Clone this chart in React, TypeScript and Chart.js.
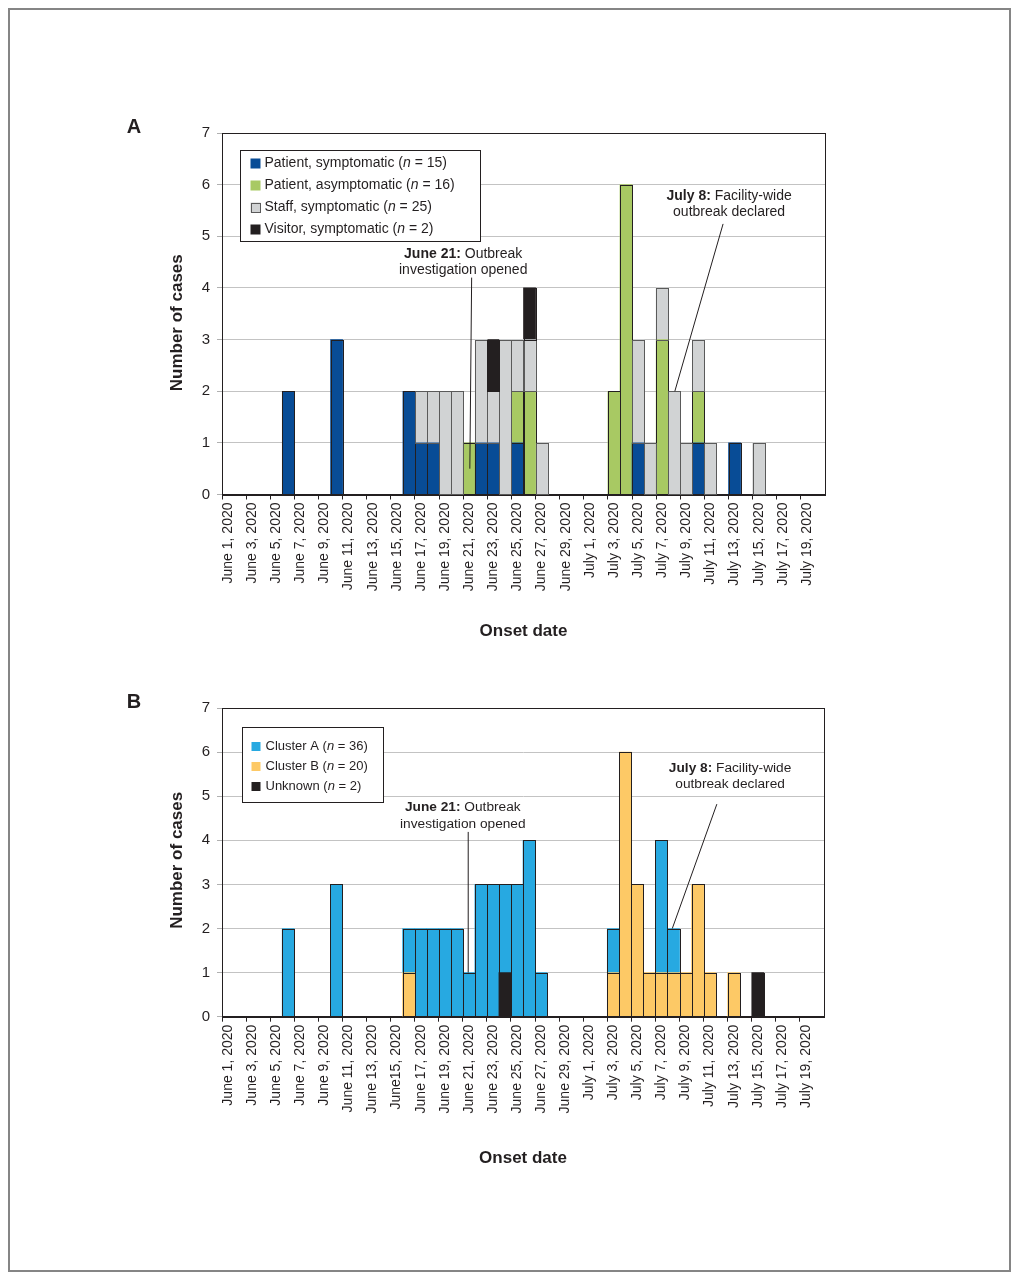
import React, { useEffect, useRef } from 'react';
import { Chart, registerables } from 'chart.js';

Chart.register(...registerables);

const FONT = "'Liberation Sans', Arial, Helvetica, sans-serif";
const INK = '#231f20';

const categories = [
  'June 1, 2020', 'June 2, 2020', 'June 3, 2020', 'June 4, 2020', 'June 5, 2020',
  'June 6, 2020', 'June 7, 2020', 'June 8, 2020', 'June 9, 2020', 'June 10, 2020',
  'June 11, 2020', 'June 12, 2020', 'June 13, 2020', 'June 14, 2020', 'June 15, 2020',
  'June 16, 2020', 'June 17, 2020', 'June 18, 2020', 'June 19, 2020', 'June 20, 2020',
  'June 21, 2020', 'June 22, 2020', 'June 23, 2020', 'June 24, 2020', 'June 25, 2020',
  'June 26, 2020', 'June 27, 2020', 'June 28, 2020', 'June 29, 2020', 'June 30, 2020',
  'July 1, 2020', 'July 2, 2020', 'July 3, 2020', 'July 4, 2020', 'July 5, 2020',
  'July 6, 2020', 'July 7, 2020', 'July 8, 2020', 'July 9, 2020', 'July 10, 2020',
  'July 11, 2020', 'July 12, 2020', 'July 13, 2020', 'July 14, 2020', 'July 15, 2020',
  'July 16, 2020', 'July 17, 2020', 'July 18, 2020', 'July 19, 2020', 'July 20, 2020',
];

const tickLabelsA = [
  'June 1, 2020', 'June 3, 2020', 'June 5, 2020', 'June 7, 2020', 'June 9, 2020',
  'June 11, 2020', 'June 13, 2020', 'June 15, 2020', 'June 17, 2020', 'June 19, 2020',
  'June 21, 2020', 'June 23, 2020', 'June 25, 2020', 'June 27, 2020', 'June 29, 2020',
  'July 1, 2020', 'July 3, 2020', 'July 5, 2020', 'July 7, 2020', 'July 9, 2020',
  'July 11, 2020', 'July 13, 2020', 'July 15, 2020', 'July 17, 2020', 'July 19, 2020',
];

const tickLabelsB = [
  'June 1, 2020', 'June 3, 2020', 'June 5, 2020', 'June 7, 2020', 'June 9, 2020',
  'June 11, 2020', 'June 13, 2020', 'June15, 2020', 'June 17, 2020', 'June 19, 2020',
  'June 21, 2020', 'June 23, 2020', 'June 25, 2020', 'June 27, 2020', 'June 29, 2020',
  'July 1, 2020', 'July 3, 2020', 'July 5, 2020', 'July 7, 2020', 'July 9, 2020',
  'July 11, 2020', 'July 13, 2020', 'July 15, 2020', 'July 17, 2020', 'July 19, 2020',
];

// Panel A series (cases per onset day)
const patientSymptomatic = [
  0, 0, 0, 0, 0, 2, 0, 0, 0, 3,
  0, 0, 0, 0, 0, 2, 1, 1, 0, 0,
  0, 1, 1, 0, 1, 0, 0, 0, 0, 0,
  0, 0, 0, 0, 1, 0, 0, 0, 0, 1,
  0, 0, 1, 0, 0, 0, 0, 0, 0, 0,
];
const patientAsymptomatic = [
  0, 0, 0, 0, 0, 0, 0, 0, 0, 0,
  0, 0, 0, 0, 0, 0, 0, 0, 0, 0,
  1, 0, 0, 0, 1, 2, 0, 0, 0, 0,
  0, 0, 2, 6, 0, 0, 3, 0, 0, 1,
  0, 0, 0, 0, 0, 0, 0, 0, 0, 0,
];
const staffSymptomatic = [
  0, 0, 0, 0, 0, 0, 0, 0, 0, 0,
  0, 0, 0, 0, 0, 0, 1, 1, 2, 2,
  0, 2, 1, 3, 1, 1, 1, 0, 0, 0,
  0, 0, 0, 0, 2, 1, 1, 2, 1, 1,
  1, 0, 0, 0, 1, 0, 0, 0, 0, 0,
];
const visitorSymptomatic = [
  0, 0, 0, 0, 0, 0, 0, 0, 0, 0,
  0, 0, 0, 0, 0, 0, 0, 0, 0, 0,
  0, 0, 1, 0, 0, 1, 0, 0, 0, 0,
  0, 0, 0, 0, 0, 0, 0, 0, 0, 0,
  0, 0, 0, 0, 0, 0, 0, 0, 0, 0,
];

// Panel B series
const clusterA = [
  0, 0, 0, 0, 0, 2, 0, 0, 0, 3,
  0, 0, 0, 0, 0, 1, 2, 2, 2, 2,
  1, 3, 3, 2, 3, 4, 1, 0, 0, 0,
  0, 0, 1, 0, 0, 0, 3, 1, 0, 0,
  0, 0, 0, 0, 0, 0, 0, 0, 0, 0,
];
const clusterB = [
  0, 0, 0, 0, 0, 0, 0, 0, 0, 0,
  0, 0, 0, 0, 0, 1, 0, 0, 0, 0,
  0, 0, 0, 0, 0, 0, 0, 0, 0, 0,
  0, 0, 1, 6, 3, 1, 1, 1, 1, 3,
  1, 0, 1, 0, 0, 0, 0, 0, 0, 0,
];
const unknownCluster = [
  0, 0, 0, 0, 0, 0, 0, 0, 0, 0,
  0, 0, 0, 0, 0, 0, 0, 0, 0, 0,
  0, 0, 0, 1, 0, 0, 0, 0, 0, 0,
  0, 0, 0, 0, 0, 0, 0, 0, 0, 0,
  0, 0, 0, 0, 1, 0, 0, 0, 0, 0,
];

const seriesNamesA = ['Patient, symptomatic', 'Patient, asymptomatic', 'Staff, symptomatic', 'Visitor, symptomatic'];
const seriesNamesB = ['Cluster A', 'Cluster B', 'Unknown'];

const yTitle = 'Number of cases';
const xTitle = 'Onset date';

const annotationsA = [
  { bold: 'June 21:', rest: ' Outbreak', line2: 'investigation opened', text: [19.5, 4.66, 4.35], from: [20.2, 4.2], to: [20.05, 0.5] },
  { bold: 'July 8:', rest: ' Facility-wide', line2: 'outbreak declared', text: [41.55, 5.77, 5.46], from: [41.05, 5.24], to: [37.05, 2.0] },
];
const annotationsB = [
  { bold: 'June 21:', rest: ' Outbreak', line2: 'investigation opened', text: [19.5, 4.76, 4.37], from: [19.95, 4.19], to: [19.95, 1.0] },
  { bold: 'July 8:', rest: ' Facility-wide', line2: 'outbreak declared', text: [41.7, 5.64, 5.28], from: [40.6, 4.82], to: [36.9, 2.0] },
];

const sum = (arr: number[]) => arr.reduce((a, b) => a + b, 0);

const decorPlugin = {
  id: 'decor',
  afterDatasetsDraw(chart: any, _args: any, opts: any) {
    const { ctx, chartArea: ca, scales } = chart;
    const xs = scales.x;
    const ys = scales.y;
    ctx.save();

    // bar outlines (shared edges -> single line)
    chart.data.datasets.forEach((ds: any, di: number) => {
      const meta = chart.getDatasetMeta(di);
      meta.data.forEach((el: any, i: number) => {
        const v = ds.data[i];
        if (v === null || v === undefined) return;
        const p = el.getProps(['x', 'y', 'base', 'width'], true);
        const l = Math.round(p.x - p.width / 2) + 0.5;
        const r = Math.round(p.x + p.width / 2) + 0.5;
        const t = Math.round(p.y) + 0.5;
        const b = Math.round(p.base) + 0.5;
        ctx.strokeStyle = ds.outline;
        ctx.lineWidth = 1;
        ctx.strokeRect(l, t, r - l, b - t);
      });
    });

    // plot frame
    ctx.strokeStyle = INK;
    ctx.lineWidth = 1;
    const fl = Math.round(ca.left) + 0.5;
    const ft = Math.round(ca.top) + 0.5;
    const fr = Math.round(ca.right) + 0.5;
    const fb = Math.round(ca.bottom) + 0.5;
    ctx.strokeRect(fl, ft, fr - fl, fb - ft);

    // annotations
    const fs = opts.annFont;
    opts.annotations.forEach((a: any) => {
      ctx.beginPath();
      ctx.moveTo(xs.getPixelForValue(a.from[0]), ys.getPixelForValue(a.from[1]));
      ctx.lineTo(xs.getPixelForValue(a.to[0]), ys.getPixelForValue(a.to[1]));
      ctx.strokeStyle = INK;
      ctx.lineWidth = 1;
      ctx.stroke();
      const tx = xs.getPixelForValue(a.text[0]);
      const y1 = ys.getPixelForValue(a.text[1]);
      const y2 = ys.getPixelForValue(a.text[2]);
      ctx.fillStyle = INK;
      ctx.textBaseline = 'middle';
      ctx.font = `bold ${fs}px ${FONT}`;
      const w1 = ctx.measureText(a.bold).width;
      ctx.font = `${fs}px ${FONT}`;
      const w2 = ctx.measureText(a.rest).width;
      const sx = tx - (w1 + w2) / 2;
      ctx.textAlign = 'left';
      ctx.font = `bold ${fs}px ${FONT}`;
      ctx.fillText(a.bold, sx, y1);
      ctx.font = `${fs}px ${FONT}`;
      ctx.fillText(a.rest, sx + w1, y1);
      ctx.textAlign = 'center';
      ctx.fillText(a.line2, tx, y2);
    });

    // legend box
    const lg = opts.legend;
    const bl = Math.round(ca.left + lg.dx) + 0.5;
    const bt = Math.round(ca.top + lg.dy) + 0.5;
    ctx.fillStyle = '#ffffff';
    ctx.fillRect(bl, bt, lg.w, lg.h);
    ctx.strokeStyle = INK;
    ctx.strokeRect(bl, bt, lg.w, lg.h);
    lg.items.forEach((it: any, i: number) => {
      const cy = bt + lg.first + i * lg.step;
      const sw = lg.sw;
      ctx.fillStyle = it.color;
      ctx.fillRect(bl + lg.swx, cy - sw / 2, sw, sw);
      if (it.outline) {
        ctx.strokeStyle = it.outline;
        ctx.strokeRect(Math.round(bl + lg.swx) + 0.5, Math.round(cy - sw / 2) + 0.5, sw - 1, sw - 1);
      }
      ctx.fillStyle = INK;
      ctx.textBaseline = 'middle';
      ctx.textAlign = 'left';
      let x = bl + lg.tx;
      const parts = [
        { t: `${it.label} (`, s: '' },
        { t: 'n', s: 'italic ' },
        { t: ` = ${it.n})`, s: '' },
      ];
      parts.forEach((pt) => {
        ctx.font = `${pt.s}${lg.font}px ${FONT}`;
        ctx.fillText(pt.t, x, cy);
        x += ctx.measureText(pt.t).width;
      });
    });

    // y-axis title
    ctx.save();
    ctx.translate(ca.left - 45, (ca.top + ca.bottom) / 2 + opts.yTitleShift);
    ctx.rotate(-Math.PI / 2);
    ctx.fillStyle = INK;
    ctx.font = `bold 17px ${FONT}`;
    ctx.textAlign = 'center';
    ctx.textBaseline = 'middle';
    ctx.fillText(yTitle, 0, 0);
    ctx.restore();

    // panel letter
    ctx.fillStyle = INK;
    ctx.font = `bold 20px ${FONT}`;
    ctx.textAlign = 'center';
    ctx.textBaseline = 'alphabetic';
    ctx.fillText(opts.letter, ca.left - 88, ca.top);

    ctx.restore();
  },
};

function makeDataset(label: string, values: number[], color: string, outline: string) {
  return {
    label,
    data: values.map((v) => (v ? v : null)),
    backgroundColor: color,
    outline,
    borderWidth: 0,
    barPercentage: 1,
    categoryPercentage: 1,
  };
}

function buildConfig(p: any): any {
  return {
    type: 'bar',
    data: { labels: categories, datasets: p.datasets },
    options: {
      responsive: false,
      animation: false,
      layout: { padding: p.padding },
      plugins: {
        legend: { display: false },
        tooltip: { enabled: false },
        decor: p.decor,
      },
      scales: {
        x: {
          stacked: true,
          offset: true,
          grid: {
            display: true,
            drawOnChartArea: false,
            drawTicks: true,
            tickLength: 5,
            offset: true,
            tickColor: (c: any) => (typeof c.index === 'number' && c.index % 2 === 0 ? INK : 'rgba(0,0,0,0)'),
          },
          border: { display: true, color: INK, width: 1 },
          ticks: {
            autoSkip: false,
            maxRotation: 90,
            minRotation: 90,
            padding: 3,
            color: INK,
            font: { family: FONT, size: 14 },
            callback: (_v: any, i: number) => (i % 2 === 0 ? p.tickLabels[i / 2] : ''),
          },
          title: {
            display: true,
            text: xTitle,
            color: INK,
            font: { family: FONT, size: 17, weight: 'bold' },
            padding: { top: 0, bottom: p.xTitlePad },
          },
          afterFit: (s: any) => {
            s.height = p.xHeight;
          },
        },
        y: {
          stacked: true,
          min: 0,
          max: 7,
          ticks: { stepSize: 1, padding: 7, color: INK, font: { family: FONT, size: 15 } },
          grid: { color: '#c3c3c3', tickColor: '#b0b0b0', tickLength: 5, lineWidth: 1 },
          border: { display: true, color: INK, width: 1 },
          title: { display: false },
          afterFit: (s: any) => {
            s.width = 122;
          },
        },
      },
    },
    plugins: [decorPlugin],
  };
}

const COLORS = {
  patSym: '#084c96',
  patAsym: '#a8c963',
  staff: '#d1d3d4',
  visitor: '#231f20',
  clusterA: '#27a9e1',
  clusterB: '#fdc966',
  unknown: '#231f20',
};

function PanelChart({ config, top }: { config: any; top: number }) {
  const ref = useRef<HTMLCanvasElement | null>(null);
  useEffect(() => {
    if (!ref.current) return;
    const chart = new Chart(ref.current, config);
    return () => chart.destroy();
  }, [config]);
  return (
    <canvas
      ref={ref}
      width={800}
      height={560}
      style={{ position: 'absolute', left: 100, top, width: 800, height: 560 }}
    />
  );
}

const configA = buildConfig({
  datasets: [
    makeDataset(seriesNamesA[0], patientSymptomatic, COLORS.patSym, INK),
    makeDataset(seriesNamesA[1], patientAsymptomatic, COLORS.patAsym, INK),
    makeDataset(seriesNamesA[2], staffSymptomatic, COLORS.staff, '#5a5a5a'),
    makeDataset(seriesNamesA[3], visitorSymptomatic, COLORS.visitor, INK),
  ],
  tickLabels: tickLabelsA,
  padding: { top: 33, right: 75, left: 0, bottom: 0 },
  xHeight: 165.5,
  xTitlePad: 18.8,
  decor: {
    letter: 'A',
    yTitleShift: 9,
    annFont: 14,
    annotations: annotationsA,
    legend: {
      dx: 18, dy: 17, w: 240, h: 91, first: 13, step: 22, swx: 10, sw: 10, tx: 24, font: 14,
      items: [
        { label: seriesNamesA[0], n: sum(patientSymptomatic), color: COLORS.patSym },
        { label: seriesNamesA[1], n: sum(patientAsymptomatic), color: COLORS.patAsym },
        { label: seriesNamesA[2], n: sum(staffSymptomatic), color: COLORS.staff, outline: '#5a5a5a' },
        { label: seriesNamesA[3], n: sum(visitorSymptomatic), color: COLORS.visitor },
      ],
    },
  },
});

const configB = buildConfig({
  datasets: [
    makeDataset(seriesNamesB[1], clusterB, COLORS.clusterB, INK),
    makeDataset(seriesNamesB[2], unknownCluster, COLORS.unknown, INK),
    makeDataset(seriesNamesB[0], clusterA, COLORS.clusterA, INK),
  ],
  tickLabels: tickLabelsB,
  padding: { top: 48, right: 76, left: 0, bottom: 0 },
  xHeight: 203.3,
  xTitlePad: 51.8,
  decor: {
    letter: 'B',
    yTitleShift: -2,
    annFont: 13.7,
    annotations: annotationsB,
    legend: {
      dx: 20, dy: 19, w: 141, h: 75, first: 19, step: 20, swx: 9, sw: 9, tx: 23, font: 13,
      items: [
        { label: seriesNamesB[0], n: sum(clusterA), color: COLORS.clusterA },
        { label: seriesNamesB[1], n: sum(clusterB), color: COLORS.clusterB },
        { label: seriesNamesB[2], n: sum(unknownCluster), color: COLORS.unknown },
      ],
    },
  },
});

export default function App() {
  return (
    <div style={{ position: 'absolute', left: 0, top: 0, width: 1020, height: 1280, background: '#ffffff' }}>
      <div
        style={{
          position: 'absolute',
          left: 8,
          top: 8,
          width: 1003,
          height: 1264,
          boxSizing: 'border-box',
          border: '2px solid #858585',
        }}
      />
      <PanelChart config={configA} top={100} />
      <PanelChart config={configB} top={660} />
    </div>
  );
}
